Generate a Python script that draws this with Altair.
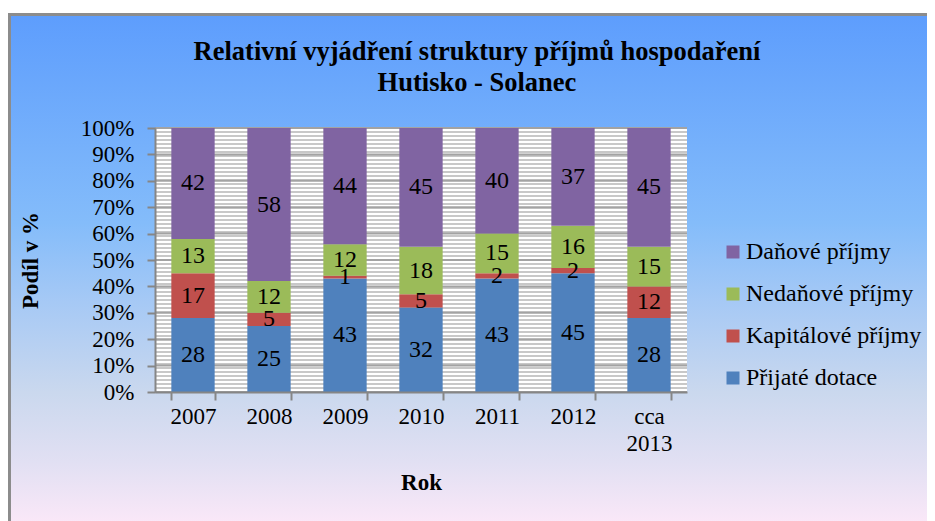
import altair as alt
import pandas as pd

# ---- data ----
years = ["2007", "2008", "2009", "2010", "2011", "2012", "cca 2013"]
series_names = ["Přijaté dotace", "Kapitálové příjmy", "Nedaňové příjmy", "Daňové příjmy"]
prijate_dotace = [28, 25, 43, 32, 43, 45, 28]
kapitalove = [17, 5, 1, 5, 2, 2, 12]
nedanove = [13, 12, 12, 18, 15, 16, 15]
danove = [42, 58, 44, 45, 40, 37, 45]
y_ticks = [0, 10, 20, 30, 40, 50, 60, 70, 80, 90, 100]
title_lines = ["Relativní vyjádření struktury příjmů hospodaření", "Hutisko - Solanec"]

legend_order = ["Daňové příjmy", "Nedaňové příjmy", "Kapitálové příjmy", "Přijaté dotace"]
legend_colors = ["#8064A2", "#9BBB59", "#C0504D", "#4F81BD"]

rows = []
for idx, (name, vals) in enumerate(zip(series_names, [prijate_dotace, kapitalove, nedanove, danove])):
    for yr, v in zip(years, vals):
        rows.append({"year": yr, "cat": name, "value": v, "ord": idx})
df = pd.DataFrame(rows)

# whole frame is the view; the plot area is set by the scale ranges
W, H = 919, 512
PL, PR, PT, PB = 147, 679, 115, 379
FONT = "Liberation Serif, Times New Roman, Times, DejaVu Serif, serif"

yscale = alt.Scale(domain=[0, 100], nice=False, zero=True, range=[PB, PT])
xscale = alt.Scale(domain=years, range=[PL, PR], paddingInner=0.43, paddingOuter=0.215)

one = pd.DataFrame({"k": [0]})

gradient_expr = (
    "{gradient: 'linear', x1: 0, y1: 0, x2: 0, y2: 1, stops: ["
    "{offset: 0, color: '#5d9dfd'},"
    "{offset: 0.41, color: '#84bcfa'},"
    "{offset: 0.565, color: '#a6c9f5'},"
    "{offset: 0.74, color: '#cad8ee'},"
    "{offset: 0.88, color: '#e2e0f3'},"
    "{offset: 1, color: '#fbe8f8'}]}"
)

border_left = alt.Chart(one).mark_rule(color="#8c8c8c", strokeWidth=3).encode(
    x=alt.value(1.5), y=alt.value(0), y2=alt.value(H)
)
border_top = alt.Chart(one).mark_rule(color="#8c8c8c", strokeWidth=3).encode(
    x=alt.value(0), x2=alt.value(W), y=alt.value(1.5)
)

plot_bg = alt.Chart(one).mark_rect(fill="white").encode(
    x=alt.value(PL), x2=alt.value(PR), y=alt.value(PT), y2=alt.value(PB)
)

stripes = alt.Chart(alt.sequence(0, 100.01, 100 / 66, as_="v")).mark_rule(
    color="#c8c8c8", strokeWidth=2
).encode(x=alt.value(PL), x2=alt.value(PR), y=alt.Y("v:Q", scale=yscale))

majors = alt.Chart(alt.sequence(0, 101, 10, as_="v")).mark_rule(
    color="#a3a3a3", strokeWidth=2
).encode(x=alt.value(PL), x2=alt.value(PR), y=alt.Y("v:Q", scale=yscale))

bars = alt.Chart(df).mark_bar().encode(
    x=alt.X(
        "year:N", sort=years, scale=xscale,
        axis=alt.Axis(
            title="Rok", orient="bottom", offset=-(H - PB), labelAngle=0, tickBand="extent",
            tickSize=8, tickWidth=2, tickColor="#868686", domainColor="#868686", domainWidth=2,
            labelFont=FONT, labelFontSize=23, labelColor="black", labelPadding=5,
            labelExpr="datum.value == 'cca 2013' ? ['cca', '2013'] : datum.label",
            labelLineHeight=27,
            titleFont=FONT, titleFontSize=23, titleFontWeight="bold", titleColor="black",
            titleX=(PL + PR) / 2, titleY=90, titleBaseline="middle", titleAlign="center",
            grid=False, zindex=1,
        ),
    ),
    y=alt.Y(
        "value:Q", stack="zero", scale=yscale,
        axis=alt.Axis(
            title="Podíl v %", orient="left", offset=-PL, values=y_ticks,
            labelExpr="datum.value + '%'",
            tickSize=8, tickWidth=2, tickColor="#868686", domainColor="#868686", domainWidth=2,
            labelFont=FONT, labelFontSize=23, labelColor="black", labelPadding=13,
            titleFont=FONT, titleFontSize=23, titleFontWeight="bold", titleColor="black",
            titleX=-125, titleY=(PT + PB) / 2, titleAngle=-90, titleBaseline="middle",
            titleAlign="center", grid=False, zindex=1, labelOverlap=False,
        ),
    ),
    color=alt.Color(
        "cat:N",
        scale=alt.Scale(domain=legend_order, range=legend_colors),
        legend=alt.Legend(
            title=None, orient="none", legendX=713, legendY=227,
            symbolType="square", symbolSize=169, symbolStrokeWidth=0,
            labelFont=FONT, labelFontSize=24, labelColor="black", labelOffset=1,
            rowPadding=18, padding=0, labelLimit=300,
        ),
    ),
    order=alt.Order("ord:Q", sort="ascending"),
)

texts = alt.Chart(df).transform_stack(
    stack="value", groupby=["year"], sort=[alt.SortField("ord", "ascending")], as_=["y0", "y1"]
).transform_calculate(mid="(datum.y0 + datum.y1) / 2").mark_text(
    font=FONT, fontSize=24, color="black", baseline="middle", align="center"
).encode(
    x=alt.X("year:N", sort=years, scale=xscale),
    y=alt.Y("mid:Q", scale=yscale),
    text=alt.Text("value:Q"),
)

title1 = alt.Chart(one).mark_text(
    text=title_lines[0], font=FONT, fontSize=26.5, fontWeight="bold", color="black",
    align="center", baseline="alphabetic",
).encode(x=alt.value(469), y=alt.value(47))
title2 = alt.Chart(one).mark_text(
    text=title_lines[1], font=FONT, fontSize=26.5, fontWeight="bold", color="black",
    align="center", baseline="alphabetic",
).encode(x=alt.value(469), y=alt.value(78))

chart = alt.layer(
    border_left, border_top, plot_bg, stripes, majors, bars, texts, title1, title2
).properties(
    width=W, height=H,
    autosize=alt.AutoSizeParams(type="none"),
    padding={"left": 0, "top": 5, "right": 0, "bottom": 0},
    view=alt.ViewBackground(fill=alt.ExprRef(expr=gradient_expr), stroke=None),
)

chart.save("out.html", embed_options={"renderer": "svg", "actions": False})
